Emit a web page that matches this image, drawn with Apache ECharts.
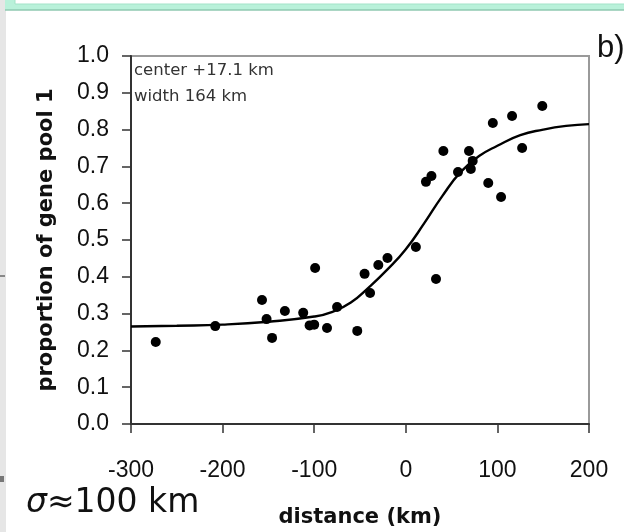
<!DOCTYPE html>
<html>
<head>
<meta charset="utf-8">
<script src="https://cdn.jsdelivr.net/npm/echarts/dist/echarts.min.js"></script>
<style>
  body { margin: 0; background: #fff; }
  #cline { width: 624px; height: 532px; }
</style>
</head>
<body>
<div id="cline"></div>
<script>
  // sampled populations: distance from cline centre (km) and proportion of gene pool 1
  var distKm = [-273, -208, -157, -152, -146, -132, -112, -105, -100, -99, -86, -75, -53, -45, -39, -30,
                -20, 11, 22, 28, 33, 41, 57, 69, 71, 73, 90, 95, 104, 116, 127, 149];
  var propPool1 = [0.223, 0.266, 0.337, 0.285, 0.234, 0.307, 0.302, 0.268, 0.270, 0.424, 0.261, 0.318, 0.253, 0.408, 0.356, 0.432,
                   0.451, 0.481, 0.658, 0.674, 0.394, 0.742, 0.685, 0.742, 0.693, 0.715, 0.655, 0.818, 0.617, 0.837, 0.750, 0.864];

  // fitted cline
  var curveX = [-300, -250, -200, -150, -100, -80, -60, -40, -20, 0, 20, 40, 60, 80, 100, 125, 150, 175, 200];
  var curveY = [0.265, 0.267, 0.270, 0.278, 0.292, 0.305, 0.330, 0.372, 0.420, 0.475, 0.545, 0.620, 0.685, 0.728, 0.756, 0.785, 0.800, 0.810, 0.815];

  var xTicks = [-300, -200, -100, 0, 100, 200];
  var yTicks = [0, 0.1, 0.2, 0.3, 0.4, 0.5, 0.6, 0.7, 0.8, 0.9, 1.0];

  var fitText = ['center +17.1 km', 'width 164 km'];

  var myChart = echarts.init(document.getElementById('cline'));

  var pts = distKm.map(function (d, i) { return [d, propPool1[i]]; });
  var curve = curveX.map(function (d, i) { return [d, curveY[i]]; });

  var option = {
    animation: false,
    backgroundColor: '#fff',
    grid: {
      left: 131,
      right: 35,
      top: 56,
      bottom: 108,
      containLabel: false,
      outerBoundsMode: 'none',
      show: true,
      borderColor: '#9a9a9a',
      borderWidth: 2
    },
    xAxis: {
      type: 'value',
      min: xTicks[0],
      max: xTicks[xTicks.length - 1],
      interval: 100,
      name: 'distance (km)',
      nameLocation: 'middle',
      nameGap: 83,
      nameTextStyle: { fontFamily: 'DejaVu Sans', fontWeight: 'bold', fontSize: 21, color: '#111' },
      axisLine: { onZero: false, lineStyle: { color: '#333', width: 2 } },
      axisTick: { inside: false, length: 9, lineStyle: { color: '#333', width: 1.5 } },
      axisLabel: { margin: 35, fontFamily: 'Liberation Sans', fontSize: 23, color: '#111' },
      splitLine: { show: false }
    },
    yAxis: {
      type: 'value',
      min: yTicks[0],
      max: yTicks[yTicks.length - 1],
      interval: 0.1,
      name: 'proportion of gene pool 1',
      nameLocation: 'middle',
      nameGap: 74,
      nameTextStyle: { fontFamily: 'DejaVu Sans', fontWeight: 'bold', fontSize: 21, color: '#111' },
      axisLine: { onZero: false, lineStyle: { color: '#333', width: 2 } },
      axisTick: { inside: false, length: 9, lineStyle: { color: '#333', width: 1.5 } },
      axisLabel: {
        margin: 22,
        fontFamily: 'Liberation Sans',
        fontSize: 23,
        color: '#111',
        formatter: function (v) { return v.toFixed(1); }
      },
      splitLine: { show: false }
    },
    series: [
      {
        type: 'line',
        data: curve,
        smooth: true,
        showSymbol: false,
        lineStyle: { color: '#000', width: 2.4 },
        z: 2
      },
      {
        type: 'scatter',
        data: pts,
        symbol: 'circle',
        symbolSize: 10,
        itemStyle: { color: '#000', opacity: 1 },
        z: 3
      }
    ],
    graphic: [
      // screenshot frame bits round the slide
      { type: 'rect', shape: { x: 0, y: 0, width: 6, height: 532 }, style: { fill: '#e6e6e6' }, silent: true },
      { type: 'rect', shape: { x: 5, y: 0, width: 619, height: 10 }, style: { fill: '#b9f1da' }, silent: true },
      { type: 'rect', shape: { x: 15, y: -2, width: 615, height: 6 }, style: { fill: '#fff', stroke: '#a3e3c8', lineWidth: 1 }, silent: true },
      { type: 'line', shape: { x1: 5, y1: 10, x2: 624, y2: 10 }, style: { stroke: '#8fc9b0', lineWidth: 1.5 }, silent: true },
      { type: 'rect', shape: { x: 0, y: 275, width: 5, height: 2 }, style: { fill: '#888' }, silent: true },
      { type: 'rect', shape: { x: 0, y: 476, width: 4, height: 6 }, style: { fill: '#777' }, silent: true },
      {
        type: 'text', left: 134, top: 62,
        style: { text: fitText[0], fontFamily: 'DejaVu Sans', fontSize: 16.5, fill: '#333' }
      },
      {
        type: 'text', left: 134, top: 88,
        style: { text: fitText[1], fontFamily: 'DejaVu Sans', fontSize: 16.5, fill: '#333' }
      },
      {
        type: 'text', left: 597, top: 33,
        style: { text: 'b)', fontFamily: 'Liberation Sans', fontSize: 31, fill: '#111' }
      },
      {
        type: 'text', left: 26, top: 487,
        style: {
          text: '{s|σ}≈100 km',
          fontFamily: 'DejaVu Sans',
          fontSize: 33,
          fill: '#111',
          rich: { s: { fontFamily: 'DejaVu Sans', fontStyle: 'italic', fontSize: 33, fill: '#111' } }
        }
      }
    ]
  };

  myChart.setOption(option);
</script>
</body>
</html>
